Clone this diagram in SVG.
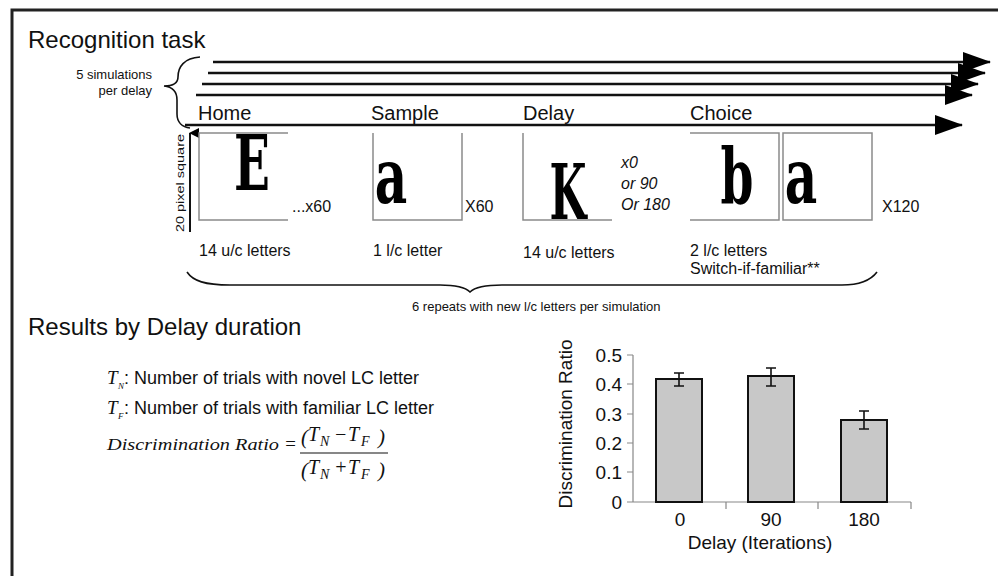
<svg xmlns="http://www.w3.org/2000/svg" width="998" height="576" viewBox="0 0 998 576">
  <defs>
    <marker id="head" viewBox="0 0 28 20" refX="27" refY="10" markerWidth="28" markerHeight="20" markerUnits="userSpaceOnUse" orient="auto">
      <path d="M0,0 L28,10 L0,20 Z" fill="#000"/>
    </marker>
    <marker id="headSmall" viewBox="0 0 10 10" refX="5" refY="1" markerWidth="10" markerHeight="10" markerUnits="userSpaceOnUse" orient="auto-start-reverse">
      <path d="M0,10 L5,0 L10,10 Z" fill="#000"/>
    </marker>
  </defs>
  <style>
    .sans { font-family: "Liberation Sans", Arial, sans-serif; fill: #111; }
    .title { font-size: 24px; }
    .stage { font-size: 20px; }
    .note { font-size: 16px; }
    .small { font-size: 13px; }
    .glyph { font-family: "DejaVu Serif", "Liberation Serif", serif; font-size: 76px; font-weight: bold; fill: #000; text-anchor: middle; }
    .serif { font-family: "Liberation Serif", "Times New Roman", serif; font-style: italic; fill: #111; }
    .box { fill: none; stroke: #8a8a8a; stroke-width: 1.5; }
    .timeline { stroke: #111; stroke-width: 2.5; fill: none; }
    .brace { stroke: #111; stroke-width: 1.6; fill: none; }
    .axis { stroke: #888; stroke-width: 1.2; fill: none; }
    .bar { fill: #c8c8c8; stroke: #111; stroke-width: 2; }
    .err { stroke: #111; stroke-width: 1.6; fill: none; }
    .chart { font-size: 19px; }
  </style>

  <rect width="998" height="576" fill="#fff"/>

  <!-- frame -->
  <path d="M12,576 L12,10 L998,10" fill="none" stroke="#222" stroke-width="3"/>

  <text class="sans title" x="28" y="48">Recognition task</text>

  <!-- simulations brace and label -->
  <g id="simulations">
    <text class="sans small" x="152" y="79" text-anchor="end">5 simulations</text>
    <text class="sans small" x="152" y="95" text-anchor="end">per delay</text>
    <path class="brace" d="M200,57 C184,58 178,67 178,77 C178,83 173,86 164,86 C173,87 177,92 177,100 L177,114 C177,122 182,127 190,128"/>
  </g>

  <!-- timelines -->
  <g id="connectors">
    <line class="timeline" x1="213" y1="62" x2="990" y2="62" marker-end="url(#head)"/>
    <line class="timeline" x1="208" y1="73" x2="985" y2="73" marker-end="url(#head)"/>
    <line class="timeline" x1="202" y1="84" x2="978" y2="84" marker-end="url(#head)"/>
    <line class="timeline" x1="196" y1="95" x2="972" y2="95" marker-end="url(#head)"/>
    <line class="timeline" x1="185" y1="125" x2="962" y2="125" marker-end="url(#head)"/>
    <line x1="190" y1="232" x2="190" y2="133" stroke="#111" stroke-width="2" marker-end="url(#headSmall)"/>
  </g>

  <text class="sans" x="184" y="232" font-size="10" transform="rotate(-90 184 232)" textLength="98" lengthAdjust="spacingAndGlyphs">20 pixel square</text>

  <g id="home">
    <text class="sans stage" x="198" y="120">Home</text>
    <path class="box" d="M288,133 L199,133 L199,220 L288,220"/>
    <text class="glyph" transform="translate(252 190) scale(0.62 1)">E</text>
    <text class="sans note" x="292" y="212">...x60</text>
    <text class="sans note" x="199" y="256">14 u/c letters</text>
  </g>

  <g id="sample">
    <text class="sans stage" x="371" y="120">Sample</text>
    <path class="box" d="M373,133 L373,220 L462,220 L462,133"/>
    <text class="glyph" transform="translate(391 203) scale(0.66 1)">a</text>
    <text class="sans note" x="465" y="212">X60</text>
    <text class="sans note" x="373" y="256">1 l/c letter</text>
  </g>

  <g id="delay">
    <text class="sans stage" x="523" y="120">Delay</text>
    <path class="box" d="M523,133 L523,220 L612,220"/>
    <text class="glyph" transform="translate(568 219) scale(0.56 1)">K</text>
    <text class="sans note" x="621" y="168" font-style="italic">x0</text>
    <text class="sans note" x="621" y="189" font-style="italic">or 90</text>
    <text class="sans note" x="621" y="210" font-style="italic">Or 180</text>
    <text class="sans note" x="523" y="258">14 u/c letters</text>
  </g>

  <g id="choice">
    <text class="sans stage" x="690" y="120">Choice</text>
    <path class="box" d="M690,133 L779,133 L779,220 L690,220"/>
    <rect class="box" x="783" y="133" width="89" height="87"/>
    <text class="glyph" transform="translate(737 203) scale(0.62 1)">b</text>
    <text class="glyph" transform="translate(801 203) scale(0.66 1)">a</text>
    <text class="sans note" x="882" y="212">X120</text>
    <text class="sans note" x="690" y="256">2 l/c letters</text>
    <text class="sans note" x="690" y="274">Switch-if-familiar**</text>
  </g>

  <!-- repeats brace -->
  <g id="repeats">
    <path class="brace" d="M187,272 C193,281 205,285 230,285 L440,285 C457,285 466,288 470,292 C474,288 484,285 502,285 L842,285 C860,285 871,280 877,272"/>
    <text class="sans small" x="412" y="311">6 repeats with new l/c letters per simulation</text>
  </g>

  <text class="sans title" x="28" y="335">Results by Delay duration</text>

  <!-- definitions and formula -->
  <g id="formula">
    <text class="serif" x="107" y="384" font-size="19">T</text>
    <text class="serif" x="118" y="389" font-size="9">N</text>
    <text class="sans" x="124" y="384" font-size="18">: Number of trials with novel LC letter</text>
    <text class="serif" x="107" y="414" font-size="19">T</text>
    <text class="serif" x="118" y="419" font-size="9">F</text>
    <text class="sans" x="124" y="414" font-size="18">: Number of trials with familiar LC letter</text>
    <text class="serif" x="107" y="450" font-size="17" textLength="172" lengthAdjust="spacingAndGlyphs">Discrimination Ratio</text>
    <text class="serif" x="284" y="450" font-size="19" font-style="normal">=</text>
    <line x1="300" y1="453" x2="388" y2="453" stroke="#111" stroke-width="1.2"/>
    <!-- numerator -->
    <text class="serif" x="301" y="444" font-size="21" font-style="normal">(</text>
    <text class="serif" x="308" y="441" font-size="20">T</text>
    <text class="serif" x="320" y="446" font-size="14">N</text>
    <text class="serif" x="334" y="441" font-size="20" font-style="normal">−</text>
    <text class="serif" x="348" y="441" font-size="20">T</text>
    <text class="serif" x="361" y="446" font-size="14">F</text>
    <text class="serif" x="378" y="444" font-size="21" font-style="normal">)</text>
    <!-- denominator -->
    <text class="serif" x="301" y="477" font-size="21" font-style="normal">(</text>
    <text class="serif" x="308" y="474" font-size="20">T</text>
    <text class="serif" x="320" y="479" font-size="14">N</text>
    <text class="serif" x="334" y="474" font-size="20" font-style="normal">+</text>
    <text class="serif" x="348" y="474" font-size="20">T</text>
    <text class="serif" x="361" y="479" font-size="14">F</text>
    <text class="serif" x="378" y="477" font-size="21" font-style="normal">)</text>
  </g>

  <!-- bar chart -->
  <g id="chart">
    <path class="axis" d="M633,355 L633,502 L911,502 M627,355 L633,355 M627,384 L633,384 M627,414 L633,414 M627,443 L633,443 M627,472 L633,472 M627,502 L633,502 M726,502 L726,509 M818,502 L818,509 M911,502 L911,509"/>
    <g class="sans chart" text-anchor="end">
      <text x="622" y="362">0.5</text>
      <text x="622" y="391">0.4</text>
      <text x="622" y="421">0.3</text>
      <text x="622" y="450">0.2</text>
      <text x="622" y="479">0.1</text>
      <text x="622" y="509">0</text>
    </g>
    <rect class="bar" x="656" y="379" width="46" height="123"/>
    <rect class="bar" x="748" y="376" width="46" height="126"/>
    <rect class="bar" x="841" y="420" width="46" height="82"/>
    <path class="err" d="M679,373 L679,386 M674,373 L684,373 M674,386 L684,386"/>
    <path class="err" d="M771,368 L771,386 M766,368 L776,368 M766,386 L776,386"/>
    <path class="err" d="M864,411 L864,429 M859,411 L869,411 M859,429 L869,429"/>
    <g class="sans chart" text-anchor="middle">
      <text x="680" y="526">0</text>
      <text x="771" y="526">90</text>
      <text x="864" y="526">180</text>
      <text x="760" y="549">Delay (Iterations)</text>
      <text x="0" y="0" transform="translate(572 424) rotate(-90)">Discrimination Ratio</text>
    </g>
  </g>
</svg>
